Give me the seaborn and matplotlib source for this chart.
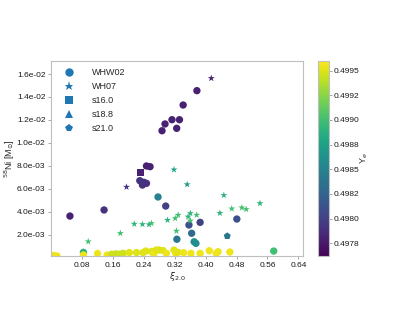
import numpy as np
import pandas as pd
import matplotlib
matplotlib.use("Agg")
import matplotlib.pyplot as plt
from matplotlib.lines import Line2D
import seaborn as sns

# ---------------- data ----------------
whw02_xi = [0.3775, 0.3419, 0.3130, 0.3324, 0.2950, 0.2872, 0.3252,
            0.2470, 0.2563, 0.2297, 0.2400, 0.2470, 0.2366,
            0.2769, 0.2968, 0.1373, 0.0490, 0.3569, 0.3858, 0.3639,
            0.3257, 0.3703, 0.3750, 0.4808, 0.5763, 0.0839,
            0.0077, 0.0155, 0.0839, 0.1205, 0.1453, 0.1566, 0.1677, 0.1781,
            0.1866, 0.2026, 0.2212, 0.2382, 0.2452, 0.2599, 0.2658, 0.2723,
            0.2795, 0.2898, 0.2986, 0.3182, 0.3226, 0.3285, 0.3432, 0.3621,
            0.3858, 0.4095, 0.4276, 0.4323, 0.4627]
whw02_ni = [0.01455, 0.01330, 0.01202, 0.01202, 0.01165, 0.01106, 0.01127,
            0.00799, 0.00793, 0.00671, 0.00657, 0.00648, 0.00633,
            0.00529, 0.00450, 0.00416, 0.00363, 0.00285, 0.00308, 0.00213,
            0.00161, 0.00139, 0.00125, 0.00337, 0.00058, 0.00047,
            0.00019, 0.00015, 0.00024, 0.00037, 0.00024, 0.00030, 0.00034, 0.00032,
            0.00038, 0.00045, 0.00045, 0.00045, 0.00058, 0.00054, 0.00032, 0.00067,
            0.00067, 0.00063, 0.00038, 0.00067, 0.00038, 0.00047, 0.00044, 0.00038,
            0.00038, 0.00061, 0.00038, 0.00052, 0.00050]
whw02_ye = [0.4978, 0.4978, 0.4978, 0.4978, 0.4978, 0.4978, 0.4978,
            0.4978, 0.4978, 0.4979, 0.4979, 0.4979, 0.4979,
            0.4985, 0.4980, 0.4979, 0.4978, 0.4981, 0.4980, 0.4983,
            0.4984, 0.4986, 0.4986, 0.4981, 0.4990, 0.4989,
            0.49955, 0.49955, 0.49955, 0.49955, 0.49955, 0.49945, 0.49945, 0.49945,
            0.49945, 0.49950, 0.49950, 0.49950, 0.49950, 0.49950, 0.49955, 0.49950,
            0.49950, 0.49950, 0.49955, 0.49950, 0.49955, 0.49950, 0.49955, 0.49955,
            0.49955, 0.49955, 0.49955, 0.49955, 0.49955]

wh07_xi = [0.4147, 0.1954, 0.3182, 0.3523, 0.4472, 0.5406, 0.4676, 0.4937,
           0.5050, 0.4369, 0.3605, 0.3768, 0.3548, 0.3605, 0.3290, 0.3213,
           0.3014, 0.3246, 0.2155, 0.2366, 0.2537, 0.2599, 0.1794, 0.0963]
wh07_ni = [0.01563, 0.00616, 0.00767, 0.00638, 0.00544, 0.00474, 0.00427, 0.00436,
           0.00422, 0.00389, 0.00387, 0.00372, 0.00357, 0.00322, 0.00372, 0.00343,
           0.00328, 0.00233, 0.00294, 0.00291, 0.00289, 0.00300, 0.00213, 0.00141]
wh07_ye = [0.4978, 0.4979, 0.4988, 0.4987, 0.4989, 0.4989, 0.4990, 0.4990,
           0.4990, 0.4989, 0.4989, 0.4990, 0.4989, 0.4990, 0.4990, 0.4990,
           0.4989, 0.4990, 0.4989, 0.4989, 0.4989, 0.4990, 0.4990, 0.4990]

s16_xi = [0.2323]
s16_ni = [0.00744]
s16_ye = [0.4978]

s21_xi = [0.4560]
s21_ni = [0.00189]
s21_ye = [0.4984]

series_names = ["WHW02", "WH07", "s16.0", "s18.8", "s21.0"]
series_markers = ["o", "*", "s", "^", "p"]

xticks = [0.08, 0.16, 0.24, 0.32, 0.40, 0.48, 0.56, 0.64]
yticks = [0.002, 0.004, 0.006, 0.008, 0.010, 0.012, 0.014, 0.016]
ytick_labels = ["2.0e-03", "4.0e-03", "6.0e-03", "8.0e-03",
                "1.0e-02", "1.2e-02", "1.4e-02", "1.6e-02"]
cbar_ticks = [0.49775, 0.49800, 0.49825, 0.49850, 0.49875, 0.49900, 0.49925, 0.49950]
cbar_labels = ["0.4978", "0.4980", "0.4982", "0.4985", "0.4988", "0.4990", "0.4992", "0.4995"]
ye_min, ye_max = 0.49762, 0.49960

# ---------------- frame ----------------
df = pd.concat([
    pd.DataFrame({"xi": whw02_xi, "ni": whw02_ni, "ye": whw02_ye, "set": "WHW02"}),
    pd.DataFrame({"xi": wh07_xi, "ni": wh07_ni, "ye": wh07_ye, "set": "WH07"}),
    pd.DataFrame({"xi": s16_xi, "ni": s16_ni, "ye": s16_ye, "set": "s16.0"}),
    pd.DataFrame({"xi": s21_xi, "ni": s21_ni, "ye": s21_ye, "set": "s21.0"}),
], ignore_index=True)

sns.set_style("white")
plt.rcParams["font.family"] = ["Liberation Sans", "DejaVu Sans"]
plt.rcParams["mathtext.fontset"] = "dejavusans"

fig = plt.figure(figsize=(4.07, 3.15), dpi=100)
ax = fig.add_axes([0.1253, 0.1873, 0.6192, 0.6200])
cax = fig.add_axes([0.7813, 0.1873, 0.0270, 0.6200])

norm = matplotlib.colors.Normalize(vmin=ye_min, vmax=ye_max)
sns.scatterplot(data=df, x="xi", y="ni", hue="ye", style="set",
                markers=dict(zip(series_names, series_markers)),
                palette="viridis", hue_norm=norm, s=28, linewidth=0,
                legend=False, ax=ax, clip_on=True)

ax.set_xlim(0.0, 0.652)
ax.set_ylim(0.00015, 0.01716)
ax.set_xticks(xticks)
ax.set_xticklabels([f"{t:.2f}" for t in xticks])
ax.set_yticks(yticks)
ax.set_yticklabels(ytick_labels)
ax.tick_params(axis="both", labelsize=6, length=2, width=0.6, color=".6",
               pad=2, labelcolor="0.1", bottom=True, left=True)
for sp in ax.spines.values():
    sp.set_color(".75")
    sp.set_linewidth(0.8)
ax.set_xlabel(r"$\xi_{2.0}$", fontsize=6.5, labelpad=1)
ax.set_ylabel(r"$^{58}$Ni [M$_{\odot}$]", fontsize=6.5)
ax.yaxis.set_label_coords(-0.133, 0.5)

sm = matplotlib.cm.ScalarMappable(norm=norm, cmap="viridis")
cb = fig.colorbar(sm, cax=cax)
cb.set_ticks(cbar_ticks)
cb.set_ticklabels(cbar_labels)
cb.outline.set_edgecolor(".75")
cb.outline.set_linewidth(0.8)
cax.tick_params(labelsize=6, length=2, width=0.6, color=".6", pad=1.5, labelcolor="0.1")
cb.set_label(r"Y$_e$", fontsize=6.5, labelpad=-1)

handles = [Line2D([], [], linestyle="none", marker=m, color="#1f77b4",
                  markersize=6 if m != "*" else 6.5, markeredgewidth=0)
           for m in series_markers]
ax.legend(handles, series_names, loc="upper left", frameon=False,
          fontsize=6.5, handletextpad=1.5, labelspacing=0.55,
          borderaxespad=0.4, bbox_to_anchor=(0.008, 1.0))

fig.savefig("out.png", dpi=100)
